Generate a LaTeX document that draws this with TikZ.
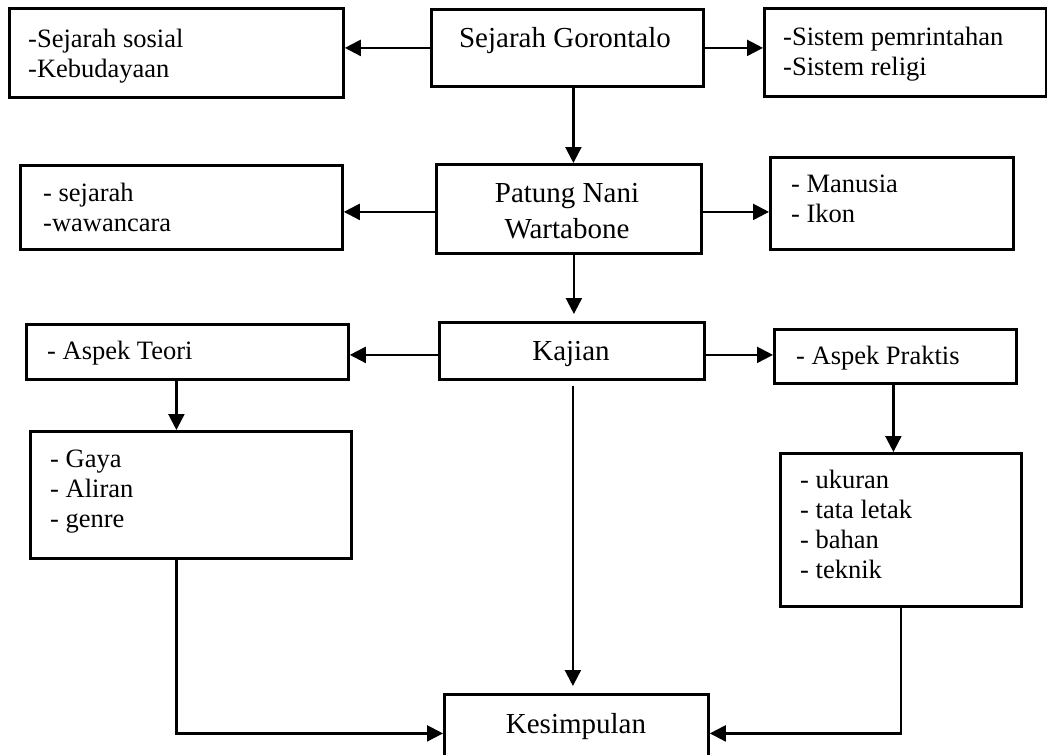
\documentclass[tikz,border=0pt]{standalone}
\usepackage{fontspec}
\setmainfont{Liberation Serif}
\usetikzlibrary{arrows.meta}
\tikzset{
  box/.style={draw=black, line width=2.8pt, anchor=north west, inner sep=0pt, fill=none},
  arr/.style={line width=2.2pt, -{Triangle[length=16pt,width=16pt]}},
  conn/.style={line width=2.2pt},
  maintxt/.style={inner sep=0pt, anchor=base, align=center, font=\fontsize{29}{36}\selectfont},
  sidetxt/.style={inner sep=0pt, anchor=base west, align=left, font=\fontsize{26.5}{30}\selectfont},
}
\begin{document}
\begin{tikzpicture}[x=1pt, y=-1pt]
\useasboundingbox (0,0) rectangle (1047,755);
\clip (0,0) rectangle (1047,755);
% boxes
\node[box, minimum width=334pt, minimum height=89pt] (lt) at (8,7) {};
\node[box, minimum width=272pt, minimum height=77pt] (sg) at (430,8) {};
\node[box, minimum width=282pt, minimum height=88pt] (rt) at (763,7) {};
\node[box, minimum width=322pt, minimum height=84pt] (l2) at (19,164) {};
\node[box, minimum width=265pt, minimum height=89pt] (pn) at (435,163) {};
\node[box, minimum width=243pt, minimum height=92pt] (r2) at (769,156) {};
\node[box, minimum width=322pt, minimum height=55pt] (at) at (25,323) {};
\node[box, minimum width=265pt, minimum height=57pt] (kj) at (438,321) {};
\node[box, minimum width=242pt, minimum height=54pt] (ap) at (773,328) {};
\node[box, minimum width=321pt, minimum height=127pt] (gy) at (29,430) {};
\node[box, minimum width=241pt, minimum height=153pt] (uk) at (779,452) {};
\node[box, minimum width=264pt, minimum height=78pt] (ks) at (443,693) {};
% texts (base = baseline of the last line)
\node[sidetxt] (ltt) at (28,77) {-Sejarah sosial\\-Kebudayaan};
\node[maintxt] (sgt) at (565,47) {Sejarah Gorontalo};
\node[sidetxt] (rtt) at (783,75) {-Sistem pemrintahan\\-Sistem religi};
\node[sidetxt] (l2t) at (43,231) {- sejarah\\-wawancara};
\node[maintxt] (pnt) at (567,238) {Patung Nani\\Wartabone};
\node[sidetxt] (r2t) at (791,222) {- Manusia\\- Ikon};
\node[sidetxt] (att) at (47,359) {- Aspek Teori};
\node[maintxt] (kjt) at (571,360) {Kajian};
\node[sidetxt] (apt) at (796,364) {- Aspek Praktis};
\node[sidetxt] (gyt) at (50,527) {- Gaya\\- Aliran\\- genre};
\node[sidetxt] (ukt) at (800,578) {- ukuran\\- tata letak\\- bahan\\- teknik};
\node[maintxt] (kst) at (576,733) {Kesimpulan};
% horizontal arrows
\draw[arr] (sg.west) -- (sg.west -| lt.east);
\draw[arr] (sg.east) -- (sg.east -| rt.west);
\draw[arr] ([yshift=-3pt]pn.west) -- ([yshift=-3pt]pn.west -| l2.east);
\draw[arr] ([yshift=-3pt]pn.east) -- ([yshift=-3pt]pn.east -| r2.west);
\draw[arr] ([yshift=-4pt]kj.west) -- ([yshift=-4pt]kj.west -| at.east);
\draw[arr] ([yshift=-4pt]kj.east) -- ([yshift=-4pt]kj.east -| ap.west);
% vertical arrows
\draw[arr] ([xshift=6pt]sg.south) -- ([xshift=6pt]sg.south |- pn.north);
\draw[arr, shorten >=7pt] ([xshift=5pt]pn.south) -- ([xshift=5pt]pn.south |- kj.north);
\draw[arr, shorten <=5pt, shorten >=7pt] ([xshift=1pt]kj.south) -- ([xshift=1pt]kj.south |- ks.north);
\draw[arr] ([xshift=-11pt]at.south) -- ([xshift=-11pt]at.south |- gy.north);
\draw[arr] ([xshift=-2pt]ap.south) -- ([xshift=-2pt]ap.south |- uk.north);
% bottom connectors
\draw[conn, line join=miter] ([xshift=-14.5pt]gy.south) -- ([xshift=-14.5pt]gy.south |- ks.west) -- ([xshift=-4pt]ks.west);
\draw[arr] ([xshift=-14.5pt]gy.south |- ks.west) -- (ks.west);
\draw[conn, line join=miter] (uk.south) |- ([xshift=4pt]ks.east);
\draw[arr] (uk.south |- ks.east) -- (ks.east);
\end{tikzpicture}
\end{document}
